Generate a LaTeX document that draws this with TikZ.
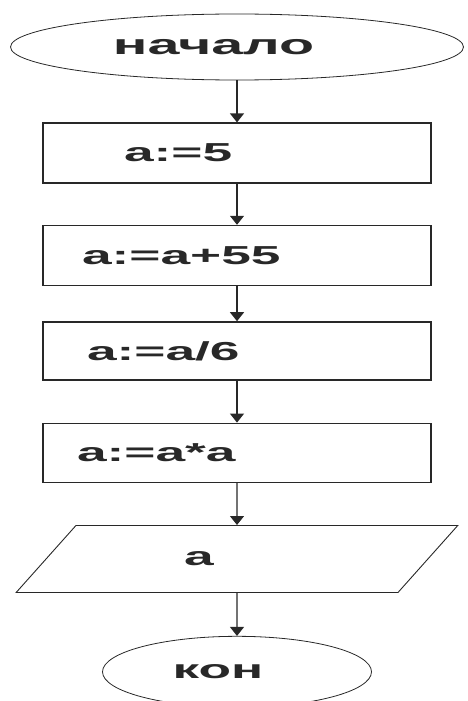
\documentclass[tikz,border=0pt]{standalone}
\usepackage{fontspec}
\newfontfamily\blockfont{Liberation Sans}[FakeStretch=2.05]
\usepackage{tikz}
\usetikzlibrary{arrows.meta, positioning, shapes.geometric}
\definecolor{inkgray}{RGB}{40,40,40}

\begin{document}
\begin{tikzpicture}[font=\blockfont\bfseries\fontsize{26}{30}\selectfont,
          every node/.style={text=inkgray},
          term/.style={draw=inkgray,ellipse,line width=0.8pt,inner sep=0pt},
          box/.style={draw=inkgray,line width=1.4pt,minimum width=388pt,
                      text width=348pt,inner xsep=20pt,align=left,inner ysep=0pt},
          iobox/.style={draw=inkgray,trapezium,line width=0.9pt,
                      trapezium left angle=36,trapezium right angle=144,
                      trapezium stretches=true,minimum width=442pt,minimum height=67pt,inner sep=0pt},
          flow/.style={-{Triangle[length=9pt,width=14pt]},line width=1.2pt,draw=inkgray}]
        \useasboundingbox (0,0) rectangle (467pt,-701pt);
        \node[term,minimum width=453pt,minimum height=66pt,font=\blockfont\bfseries\fontsize{28}{32}\selectfont]
          (start) at (237pt,-47pt) {начало\hspace*{47pt}};
        \node[box,minimum height=60pt,below=42pt of start] (set) {\hspace*{61pt}a:=5};
        \node[box,minimum height=60pt,below=41pt of set] (add) {\hspace*{19pt}a:=a+55};
        \node[box,minimum height=58pt,below=35pt of add] (div) {\hspace*{24pt}a:=a/6};
        \node[box,minimum height=59pt,below=42pt of div] (sqr) {\hspace*{14pt}a:=a*a};
        \node[iobox,below=42pt of sqr] (out) {a\hspace*{76pt}};
        \node[term,minimum width=269pt,minimum height=71pt,below=43pt of out] (stop) {кон\hspace*{38pt}};
        \draw[flow] (start) -- (set);
        \draw[flow] (set) -- (add);
        \draw[flow] (add) -- (div);
        \draw[flow] (div) -- (sqr);
        \draw[flow] (sqr) -- (out);
        \draw[flow] (out) -- (stop);
      \end{tikzpicture}
\end{document}
